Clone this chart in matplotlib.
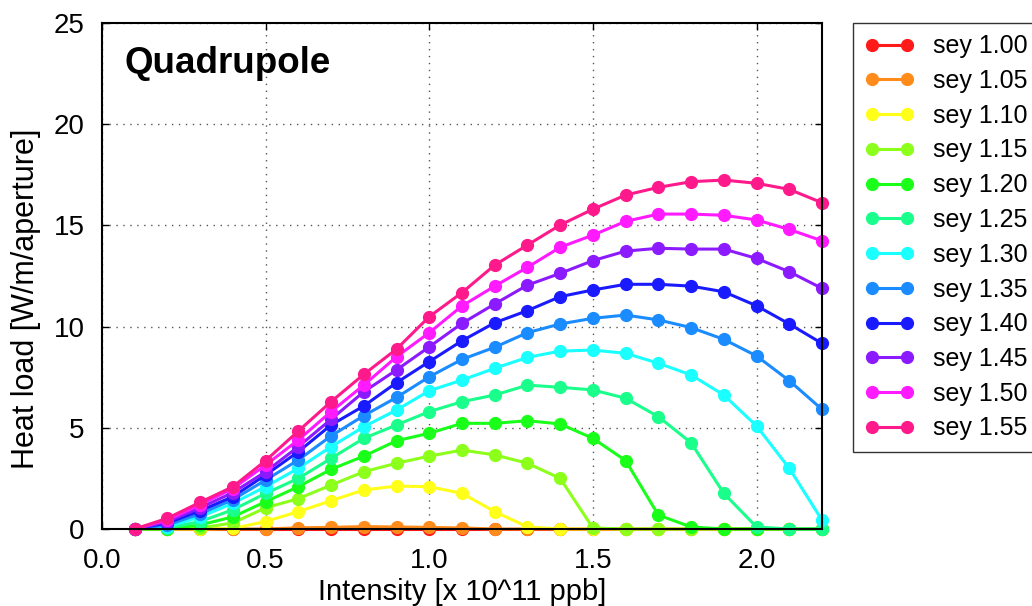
import numpy as np
import matplotlib
matplotlib.use('Agg')
from matplotlib import pyplot as plt

plt.rcParams['font.family'] = ['Liberation Sans', 'DejaVu Sans']

intensity = [0.1, 0.2, 0.3, 0.4, 0.5, 0.6, 0.7, 0.8, 0.9, 1.0, 1.1,
             1.2, 1.3, 1.4, 1.5, 1.6, 1.7, 1.8, 1.9, 2.0, 2.1, 2.2]

sey_labels = ['sey 1.00', 'sey 1.05', 'sey 1.10', 'sey 1.15', 'sey 1.20', 'sey 1.25',
              'sey 1.30', 'sey 1.35', 'sey 1.40', 'sey 1.45', 'sey 1.50', 'sey 1.55']

sey_100 = [0] * 22
sey_105 = [0, 0, 0, 0, 0, 0.06, 0.08, 0.12, 0.1, 0.08, 0.05, 0, 0, 0, 0, 0, 0, 0, 0, 0, 0, 0]
sey_110 = [0, 0, 0, 0.03, 0.37, 0.86, 1.4, 1.93, 2.12, 2.09, 1.76, 0.86, 0.1, 0, 0, 0, 0, 0, 0, 0, 0, 0]
sey_115 = [0, 0, 0.05, 0.3, 1.05, 1.5, 2.17, 2.83, 3.25, 3.6, 3.9, 3.66, 3.25, 2.5, 0.05, 0, 0, 0, 0, 0, 0, 0]
sey_120 = [0, 0, 0.2, 0.6, 1.35, 2.09, 2.95, 3.6, 4.36, 4.73, 5.22, 5.22, 5.35, 5.19, 4.48, 3.38, 0.69, 0.1, 0, 0, 0, 0]
sey_125 = [0, 0.05, 0.37, 0.95, 1.76, 2.5, 3.49, 4.48, 5.14, 5.8, 6.29, 6.62, 7.11, 7.0, 6.87, 6.46, 5.55, 4.26, 1.76, 0.1, 0, 0]
sey_130 = [0, 0.1, 0.6, 1.27, 2.09, 3.0, 4.07, 5.05, 5.88, 6.83, 7.36, 7.94, 8.48, 8.79, 8.84, 8.68, 8.19, 7.61, 6.62, 5.09, 3.0, 0.44]
sey_135 = [0, 0.2, 0.75, 1.45, 2.42, 3.41, 4.6, 5.6, 6.5, 7.52, 8.38, 8.98, 9.7, 10.13, 10.41, 10.57, 10.33, 9.95, 9.37, 8.55, 7.33, 5.91]
sey_140 = [0, 0.3, 0.9, 1.6, 2.67, 3.82, 5.14, 6.08, 7.23, 8.27, 9.3, 10.19, 10.79, 11.48, 11.81, 12.09, 12.09, 12.0, 11.72, 11.03, 10.13, 9.17]
sey_145 = [0, 0.37, 1.05, 1.8, 2.83, 4.07, 5.42, 6.78, 7.86, 9.0, 10.16, 11.12, 12.05, 12.63, 13.26, 13.73, 13.87, 13.83, 13.83, 13.37, 12.71, 11.89]
sey_150 = [0, 0.45, 1.2, 2.0, 3.16, 4.4, 5.8, 7.11, 8.51, 9.7, 11.02, 12.0, 12.93, 13.92, 14.52, 15.2, 15.56, 15.56, 15.5, 15.27, 14.8, 14.24]
sey_155 = [0, 0.53, 1.32, 2.09, 3.38, 4.84, 6.29, 7.64, 8.89, 10.49, 11.68, 13.04, 14.03, 15.02, 15.8, 16.5, 16.88, 17.16, 17.24, 17.08, 16.78, 16.12]

all_series = [sey_100, sey_105, sey_110, sey_115, sey_120, sey_125,
              sey_130, sey_135, sey_140, sey_145, sey_150, sey_155]

colors = ['#ff1a1a', '#ff8c1a', '#ffff1a', '#8cff1a', '#1aff1a', '#1aff8c',
          '#1affff', '#1a8cff', '#1a1aff', '#8c1aff', '#ff1aff', '#ff1a8c']

fig = plt.figure(figsize=(10.32, 6.06), dpi=100)
ax = fig.add_axes([102 / 1032, 1 - 529 / 606, 720 / 1032, 506 / 606])

for vals, col, lab in zip(all_series, colors, sey_labels):
    ax.plot(intensity, vals, '-o', color=col, lw=2.2, ms=8.5, label=lab, clip_on=False)

ax.set_xlim(0, 2.2)
ax.set_ylim(0, 25)
ax.set_xticks([0.0, 0.5, 1.0, 1.5, 2.0])
ax.set_xticklabels(['0.0', '0.5', '1.0', '1.5', '2.0'])
ax.set_yticks([0, 5, 10, 15, 20, 25])
ax.tick_params(direction='in', length=5, width=1, labelsize=20, top=True, right=True, pad=12.5)
ax.tick_params(axis='x', pad=14)
ax.grid(True, linestyle=(0, (1, 4)), color='#555555', lw=1)
for sp in ax.spines.values():
    sp.set_linewidth(1.5)

ax.set_xlabel('Intensity [x 10^11 ppb]', fontsize=21)
ax.set_ylabel('Heat load [W/m/aperture]', fontsize=22)
ax.xaxis.set_label_coords(0.5, -0.097)
ax.yaxis.set_label_coords(-0.085, 0.455)
ax.text(0.031, 0.92, 'Quadrupole', transform=ax.transAxes, fontsize=26.5,
        fontweight='bold', va='center', ha='left')

leg = fig.legend(loc='upper left', bbox_to_anchor=(853 / 1032, 1 - 23 / 606),
                 fontsize=18, frameon=True, fancybox=False, numpoints=2,
                 handlelength=2.0, borderpad=0.45, labelspacing=0.43,
                 handletextpad=0.75, borderaxespad=0)
leg.get_frame().set_edgecolor('black')
leg.get_frame().set_linewidth(1)

fig.savefig('out.png', dpi=100)
